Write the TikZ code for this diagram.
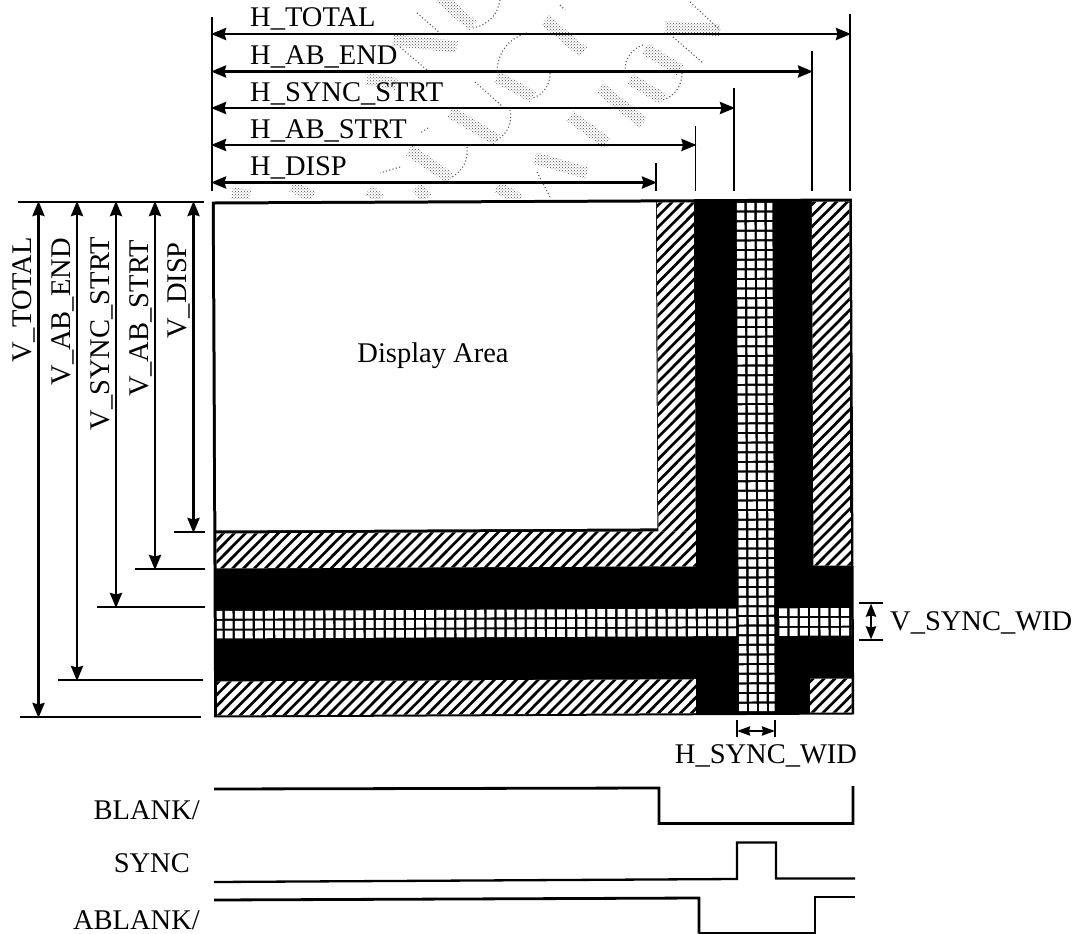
\documentclass[tikz,border=0pt]{standalone}
\usepackage{fontspec}
\setmainfont{Liberation Serif}
\usetikzlibrary{arrows.meta,patterns,calc}
\tikzset{
  px/.style={x=1pt,y=-1pt},
  dim/.style={line width=2.8pt,{Stealth[length=15pt,width=12pt,inset=1.5pt]}-{Stealth[length=15pt,width=12pt,inset=1.5pt]},shorten <=-1pt,shorten >=-1pt},
  dimsm/.style={line width=2.6pt,{Stealth[length=13pt,width=10pt,inset=1pt]}-{Stealth[length=13pt,width=10pt,inset=1pt]}},
  extline/.style={line width=1.3pt},
  wave/.style={line width=2.8pt,line join=miter},
  wavethin/.style={line width=2.3pt,line join=miter},
  lab/.style={font=\fontsize{28.5}{29}\selectfont,inner sep=0pt,text=black},
  wmline/.style={line width=1.1pt,black!65,dash pattern=on 1.1pt off 2.3pt},
  wmband/.style={pattern=crosshatch dots,pattern color=black!70,draw=none}
}
\newcommand{\hatchfill}[4]{%
  \begin{scope}
    \clip (#1,#2) rectangle (#3,#4);
    \fill[white] (#1,#2) rectangle (#3,#4);
    \foreach \c in {700,711,...,1710}{\draw[line width=2.7pt] (\c-900,900) -- (\c,0);}
  \end{scope}}
\newcommand{\band}[2]{%
  \fill[wmband] ($#1!6pt!90:#2$) -- ($#2!6pt!-90:#1$) -- ($#2!6pt!90:#1$) -- ($#1!6pt!-90:#2$) -- cycle;}
\begin{document}
\begin{tikzpicture}[px]
\useasboundingbox (0,0) rectangle (1074,934);
\fill[white] (0,0) rectangle (1074,934);
% stippled stamp behind the upper dimensions
\begin{scope}
  \clip (0,0) rectangle (1074,198);
  \band{(440,-3)}{(473,26)}
  \band{(545,20)}{(583,52)}
  \band{(393,40)}{(457,47)}
  \band{(497,77)}{(533,97)}
  \band{(630,79)}{(663,99)}
  \band{(645,49)}{(680,70)}
  \band{(600,88)}{(643,123)}
  \band{(450,112)}{(497,140)}
  \band{(570,116)}{(607,143)}
  \band{(409,150)}{(450,178)}
  \band{(535,158)}{(587,173)}
  \band{(497,187)}{(520,200)}
  \band{(665,27)}{(720,30)}
  \band{(367,79)}{(397,84)}
  \band{(232,193)}{(250,196)}
  \band{(292,186)}{(313,197)}
  \band{(369,190)}{(380,200)}
  \band{(417,187)}{(427,198)}
  \draw[wmline] (417,13) -- (440,33);
  \draw[wmline] (690,2) -- (720,30);
  \draw[wmline] (673,37) -- (703,63);
  \draw[wmline] (475,82) -- (503,107);
  \draw[wmline] (400,47) -- (427,70);
  \draw[wmline] (537,172) -- (550,197);
  \draw[wmline] (500,0) to[bend left=35] (473,28);
  \draw[wmline] (527,33) to[bend right=35] (497,70);
  \draw[wmline] (550,73) to[bend left=35] (533,98);
  \draw[wmline] (643,45) to[bend right=35] (625,70);
  \draw[wmline] (682,73) to[bend left=35] (663,100);
  \draw[wmline] (510,110) to[bend left=35] (497,140);
  \draw[wmline] (467,147) to[bend left=35] (450,178);
  \draw[wmline] (428,128) -- (420,133);
  \draw[wmline] (400,167) -- (380,173);
  \draw[wmline] (560,5) -- (565,10);
\end{scope}
\begin{scope}[rotate around={0.27:(533,460)}]
% frame
\fill[black] (213,200) rectangle (853,716);
\fill[white] (216,203) rectangle (657,529);
\hatchfill{658}{203}{695.5}{567}
\hatchfill{216}{532}{695.5}{567}
\hatchfill{813}{203}{850.5}{567}
\hatchfill{216}{680}{695.5}{714}
\hatchfill{809}{680}{850.5}{714}
% horizontal sync band
\begin{scope}
  \clip (216,608) rectangle (737,640);
  \foreach \x in {0,...,51}{\foreach \y in {609.5,619.4,629.2}{
    \fill[white] (214+10.07*\x,\y) rectangle +(7.7,7.8);}}
\end{scope}
\begin{scope}
  \clip (778,608) rectangle (850.5,640);
  \foreach \x in {0,...,7}{\foreach \y in {609.5,619.4,629.2}{
    \fill[white] (778.5+10.3*\x,\y) rectangle +(8,7.8);}}
\end{scope}
% vertical sync band
\begin{scope}
  \clip (737.5,203) rectangle (773.5,714);
  \foreach \x in {0,...,3}{\foreach \k in {-1,0,...,52}{
    \fill[white] (738+10*\x,204+9.63*\k) rectangle +(7.6,7.4);}}
\end{scope}
\end{scope}
% horizontal dims
\coordinate (hl) at (212,17); \coordinate (hlb) at (212,191);
\draw[extline] (hl) -- (hlb);
\foreach \n/\x/\yt in {a/850/14,b/812/51,c/734/88,d/695.5/126,e/656/163}{
  \coordinate (t\n) at (\x,\yt); \coordinate (u\n) at (\x,190.5);
  \draw[extline] (t\n) -- (u\n);}
\foreach \n/\x/\y/\t in {a/850/34/H\_TOTAL,b/812/71.5/H\_AB\_END,c/734/108/H\_SYNC\_STRT,d/695.5/145/H\_AB\_STRT,e/656/182.5/H\_DISP}{
  \coordinate (ha\n) at (212,\y); \coordinate (hb\n) at (\x,\y);
  \draw[dim] (ha\n) -- (hb\n);
  \node[lab,anchor=base west] (hlab\n) at (250,\y-7) {\t};}
% vertical dims
\coordinate (vtop) at (18,202); \coordinate (vtopr) at (204,202);
\draw[extline] (vtop) -- (vtopr);
\foreach \n/\x/\y/\xs/\xe/\tp/\t in {a/38.5/717/20/201/237/V\_TOTAL,b/77/680/58/203/238/V\_AB\_END,c/116/607/97/205/237/V\_SYNC\_STRT,d/155/569/135/205/240/V\_AB\_STRT,e/193.5/532/174/205/242/V\_DISP}{
  \coordinate (vs\n) at (\x,202); \coordinate (ve\n) at (\x,\y);
  \draw[dim] (vs\n) -- (ve\n);
  \coordinate (el\n) at (\xs,\y); \coordinate (er\n) at (\xe,\y);
  \draw[extline] (el\n) -- (er\n);
  \node[lab,rotate=90,anchor=base east] (vlab\n) at (\x-7,\tp) {\t};}
% sync width
\coordinate (vw1) at (871,603.5); \coordinate (vw2) at (871,639.5);
\draw[extline] (859,603) -- (883,603) (859,640) -- (883,640);
\draw[dimsm] (vw1) -- (vw2);
\node[lab,anchor=base west] (vsw) at (890,630) {V\_SYNC\_WID};
\coordinate (hw1) at (737,731); \coordinate (hw2) at (775,731);
\draw[extline] (737,720) -- (737,737) (775,720) -- (775,737);
\draw[line width=2.4pt,{Stealth[length=13pt,width=9pt,inset=1pt]}-{Stealth[length=13pt,width=9pt,inset=1pt]}] (hw1) -- (hw2);
\node[lab,anchor=base] (hsw) at (766,763) {H\_SYNC\_WID};
\node[lab] (da) at (433,356) {Display Area};
% waveforms
\coordinate (b0) at (214,789);
\draw[wave] (b0) -- (659,788) -- (659,823.5) -- (853,823.5) -- (853,786);
\coordinate (s0) at (214,882);
\draw[wavethin] (s0) -- (737,879) -- (737,842.5) -- (776,842.5) -- (776,878.5) -- (855,878.5);
\coordinate (a0) at (214,900);
\draw[wave] (a0) -- (699,898) -- (699,933.5);
\draw[wavethin] (699,933) -- (815,933);
\draw[wave] (815,933.5) -- (815,897) -- (855,897);
\node[lab,anchor=base east] (lb) at (200,819) {BLANK/};
\node[lab,anchor=base east] (ls) at (190,872) {SYNC};
\node[lab,anchor=base east] (la) at (200,929) {ABLANK/};
\end{tikzpicture}
\end{document}
